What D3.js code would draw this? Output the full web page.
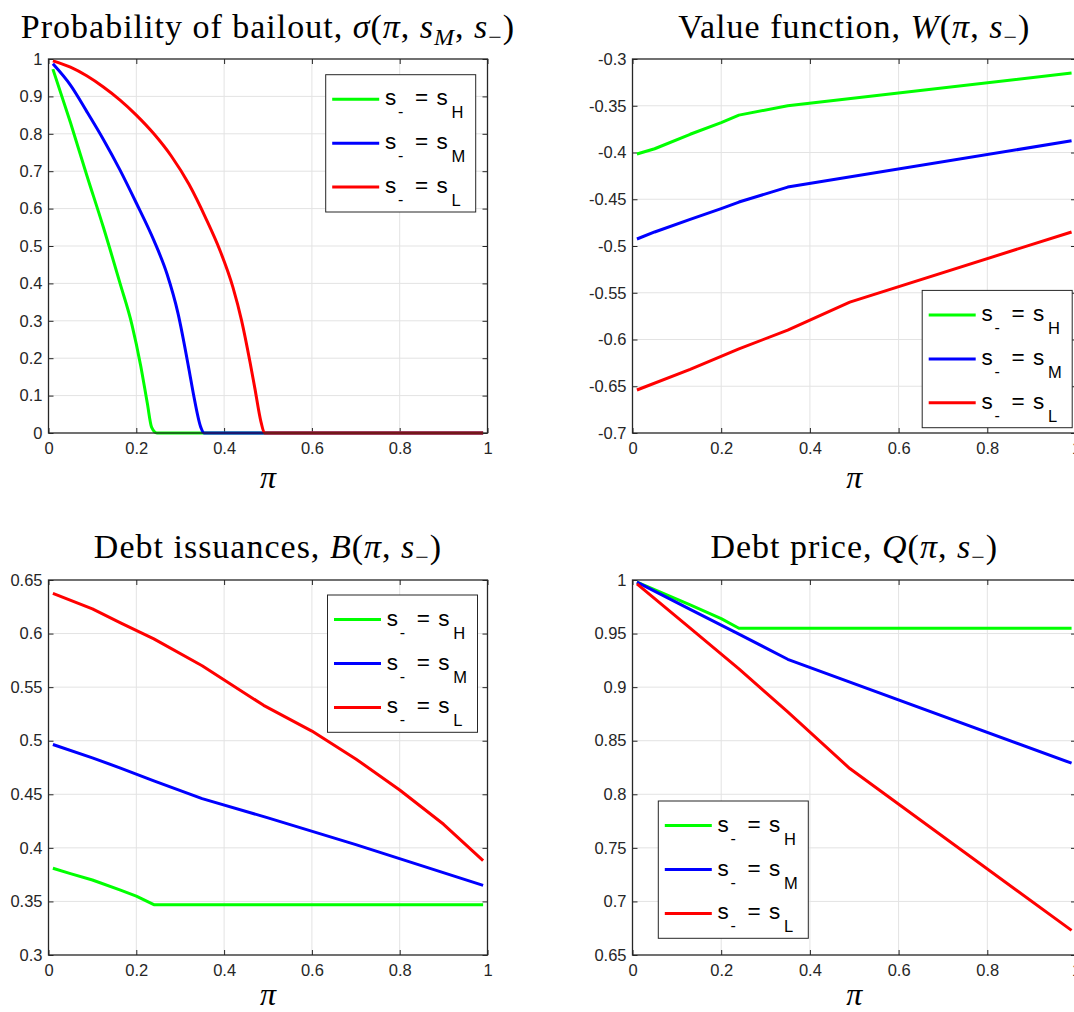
<!DOCTYPE html>
<html><head><meta charset="utf-8">
<script src="https://cdn.jsdelivr.net/npm/d3@7"></script>
<style>body{margin:0;background:#fff;overflow:hidden}</style>
</head><body>
<script>
// ---------- data ----------
const xTicks = [0, 0.2, 0.4, 0.6, 0.8, 1];
const xTickLabels = ["0", "0.2", "0.4", "0.6", "0.8", "1"];

const sigmaTicks = [0, 0.1, 0.2, 0.3, 0.4, 0.5, 0.6, 0.7, 0.8, 0.9, 1];
const sigmaTickLabels = ["0", "0.1", "0.2", "0.3", "0.4", "0.5", "0.6", "0.7", "0.8", "0.9", "1"];
const wTicks = [-0.7, -0.65, -0.6, -0.55, -0.5, -0.45, -0.4, -0.35, -0.3];
const wTickLabels = ["-0.7", "-0.65", "-0.6", "-0.55", "-0.5", "-0.45", "-0.4", "-0.35", "-0.3"];
const bTicks = [0.3, 0.35, 0.4, 0.45, 0.5, 0.55, 0.6, 0.65];
const bTickLabels = ["0.3", "0.35", "0.4", "0.45", "0.5", "0.55", "0.6", "0.65"];
const qTicks = [0.65, 0.7, 0.75, 0.8, 0.85, 0.9, 0.95, 1];
const qTickLabels = ["0.65", "0.7", "0.75", "0.8", "0.85", "0.9", "0.95", "1"];

const seriesSubs = ["H", "M", "L"];
const seriesColors = ["#00ff00", "#0000ff", "#ff0000"];

// Probability of bailout
const sigmaPiH = [0.01, 0.05, 0.087, 0.125, 0.163, 0.19, 0.21, 0.225, 0.235, 0.247, 0.99];
const sigmaH   = [0.973, 0.83, 0.69, 0.55, 0.40, 0.29, 0.18, 0.08, 0.015, 0, 0];
const sigmaPiM = [0.01, 0.05, 0.087, 0.125, 0.163, 0.2, 0.24, 0.27, 0.295, 0.32, 0.33, 0.347, 0.354, 0.99];
const sigmaM   = [0.987, 0.93, 0.86, 0.785, 0.703, 0.615, 0.515, 0.425, 0.32, 0.17, 0.105, 0.015, 0, 0];
const sigmaPiL = [0.01, 0.05, 0.087, 0.125, 0.163, 0.2, 0.24, 0.28, 0.32, 0.36, 0.39, 0.42, 0.44, 0.459, 0.47, 0.484, 0.492, 0.99];
const sigmaL   = [0.995, 0.978, 0.955, 0.925, 0.89, 0.85, 0.80, 0.74, 0.665, 0.57, 0.49, 0.39, 0.30, 0.19, 0.12, 0.03, 0, 0];

// Value function
const wPiH = [0.01, 0.05, 0.13, 0.2, 0.24, 0.35, 0.99];
const wH   = [-0.4016, -0.396, -0.3805, -0.368, -0.360, -0.350, -0.315];
const wPiM = [0.01, 0.05, 0.13, 0.2, 0.24, 0.35, 0.99];
const wM   = [-0.4925, -0.485, -0.4715, -0.460, -0.453, -0.437, -0.3875];
const wPiL = [0.01, 0.13, 0.24, 0.35, 0.49, 0.99];
const wL   = [-0.654, -0.632, -0.610, -0.590, -0.560, -0.485];

// Debt issuances
const bPiH = [0.01, 0.05, 0.1, 0.164, 0.2, 0.24, 0.99];
const bH   = [0.381, 0.376, 0.370, 0.3605, 0.355, 0.347, 0.347];
const bPiM = [0.01, 0.1, 0.164, 0.24, 0.35, 0.5, 0.7, 0.99];
const bM   = [0.4965, 0.484, 0.4745, 0.4625, 0.446, 0.428, 0.403, 0.365];
const bPiL = [0.01, 0.1, 0.164, 0.24, 0.35, 0.49, 0.6, 0.7, 0.8, 0.9, 0.99];
const bL   = [0.6375, 0.623, 0.610, 0.595, 0.570, 0.533, 0.509, 0.483, 0.454, 0.422, 0.388];

// Debt price
const qPiH = [0.01, 0.13, 0.2, 0.24, 0.99];
const qH   = [0.998, 0.9767, 0.964, 0.955, 0.955];
const qPiM = [0.01, 0.13, 0.24, 0.35, 0.99];
const qM   = [0.998, 0.9726, 0.9495, 0.926, 0.829];
const qPiL = [0.01, 0.13, 0.24, 0.35, 0.49, 0.99];
const qL   = [0.9963, 0.955, 0.917, 0.877, 0.824, 0.673];

// ---------- layout ----------
const W = 1074, H = 1012;
const svg = d3.select("body").append("svg").attr("width", W).attr("height", H)
  .style("font-family", "'Liberation Sans', Arial, sans-serif");

const INK = "#262626";
const GRID = "#e3e3e3";

const panels = [
  { box: [48.5, 487.5, 59, 433], domain: [0, 1], ticks: sigmaTicks, labels: sigmaTickLabels, smooth: true,
    series: [[sigmaPiH, sigmaH], [sigmaPiM, sigmaM], [sigmaPiL, sigmaL]],
    title: [{t: "Probability of bailout, "}, {t: "σ", i: 1}, {t: "("}, {t: "π", i: 1}, {t: ", "}, {t: "s", i: 1}, {t: "M", i: 1, sub: 1}, {t: ", "}, {t: "s", i: 1}, {t: "−", sub: 1}, {t: ")"}],
    titleY: 38, legend: [325.7, 74.7] },
  { box: [632.5, 1076, 59, 433], domain: [-0.7, -0.3], ticks: wTicks, labels: wTickLabels,
    series: [[wPiH, wH], [wPiM, wM], [wPiL, wL]],
    title: [{t: "Value function, "}, {t: "W", i: 1}, {t: "("}, {t: "π", i: 1}, {t: ", "}, {t: "s", i: 1}, {t: "−", sub: 1}, {t: ")"}],
    titleY: 38, legend: [922.2, 290.4] },
  { box: [48.5, 487.5, 580, 955], domain: [0.3, 0.65], ticks: bTicks, labels: bTickLabels,
    series: [[bPiH, bH], [bPiM, bM], [bPiL, bL]],
    title: [{t: "Debt issuances, "}, {t: "B", i: 1}, {t: "("}, {t: "π", i: 1}, {t: ", "}, {t: "s", i: 1}, {t: "−", sub: 1}, {t: ")"}],
    titleY: 558, legend: [327.5, 595] },
  { box: [632.5, 1076, 580, 955], domain: [0.65, 1], ticks: qTicks, labels: qTickLabels,
    series: [[qPiH, qH], [qPiM, qM], [qPiL, qL]],
    title: [{t: "Debt price, "}, {t: "Q", i: 1}, {t: "("}, {t: "π", i: 1}, {t: ", "}, {t: "s", i: 1}, {t: "−", sub: 1}, {t: ")"}],
    titleY: 558, legend: [658.3, 801] }
];

const TICK = 5;
const FS_TICK = "16.5px";

panels.forEach(p => {
  const [x0, x1, y0, y1] = p.box;
  const x = d3.scaleLinear().domain([0, 1]).range([x0, x1]);
  const y = d3.scaleLinear().domain(p.domain).range([y1, y0]);
  const g = svg.append("g");

  // grid
  g.selectAll(".gx").data(xTicks.slice(1, -1)).join("line")
    .attr("x1", d => x(d)).attr("x2", d => x(d)).attr("y1", y0).attr("y2", y1)
    .attr("stroke", GRID).attr("stroke-width", 1);
  g.selectAll(".gy").data(p.ticks.slice(1, -1)).join("line")
    .attr("x1", x0).attr("x2", x1).attr("y1", d => y(d)).attr("y2", d => y(d))
    .attr("stroke", GRID).attr("stroke-width", 1);

  // axes via d3 (inner ticks)
  const xb = d3.axisBottom(x).tickValues(xTicks).tickFormat((d, i) => xTickLabels[i]).tickSizeInner(-TICK).tickSizeOuter(0).tickPadding(9);
  const xt = d3.axisTop(x).tickValues(xTicks).tickFormat("").tickSizeInner(-TICK).tickSizeOuter(0);
  const yl = d3.axisLeft(y).tickValues(p.ticks).tickFormat((d, i) => p.labels[i]).tickSizeInner(-TICK).tickSizeOuter(0).tickPadding(6);
  const yr = d3.axisRight(y).tickValues(p.ticks).tickFormat("").tickSizeInner(-TICK).tickSizeOuter(0);

  const styleAxis = sel => {
    sel.select(".domain").remove();
    sel.selectAll("line").attr("stroke", INK).attr("stroke-width", 1);
    sel.selectAll("text").attr("fill", INK).style("font-size", FS_TICK).style("font-family", "'Liberation Sans', Arial, sans-serif");
  };
  g.append("g").attr("transform", `translate(0,${y1})`).call(xb).call(styleAxis);
  g.append("g").attr("transform", `translate(0,${y0})`).call(xt).call(styleAxis);
  g.append("g").attr("transform", `translate(${x0},0)`).call(yl).call(styleAxis);
  g.append("g").attr("transform", `translate(${x1},0)`).call(yr).call(styleAxis);

  // series
  const line = d3.line().x(d => x(d[0])).y(d => y(d[1]));
  if (p.smooth) line.curve(d3.curveMonotoneX);
  p.series.forEach((s, k) => {
    const pts = s[0].map((v, i) => [v, s[1][i]]);
    g.append("path").datum(pts).attr("d", line)
      .attr("fill", "none").attr("stroke", seriesColors[k]).attr("stroke-width", 3)
      .attr("stroke-linejoin", "round");
  });

  // box
  g.append("rect").attr("x", x0).attr("y", y0).attr("width", x1 - x0).attr("height", y1 - y0)
    .attr("fill", "none").attr("stroke", INK).attr("stroke-width", 1.3);

  // title
  const cx = (x0 + x1) / 2;
  const tt = svg.append("text").attr("x", cx).attr("y", p.titleY).attr("text-anchor", "middle")
    .style("font-family", "'Liberation Serif', 'Times New Roman', serif").style("font-size", "34px")
    .style("letter-spacing", "1px").attr("fill", "#000");
  p.title.forEach((seg, i) => {
    const ts = tt.append("tspan").text(seg.t);
    if (seg.i) ts.style("font-style", "italic");
    const prev = p.title[i - 1];
    if (seg.sub) ts.style("font-size", "24px").attr("dy", 7);
    else if (prev && prev.sub) ts.attr("dy", -7);
  });

  // x label
  svg.append("text").attr("x", cx).attr("y", y1 + (y1 > 500 ? 50 : 55)).attr("text-anchor", "middle")
    .style("font-family", "'Liberation Serif', 'Times New Roman', serif").style("font-style", "italic")
    .style("font-size", "32px").attr("fill", "#000").text("π");

  // legend
  const [lx, ly] = p.legend;
  const lg = svg.append("g");
  lg.append("rect").attr("x", lx).attr("y", ly).attr("width", 150).attr("height", 137.3)
    .attr("fill", "#fff").attr("stroke", INK).attr("stroke-width", 1);
  seriesSubs.forEach((sub, k) => {
    const cyRow = ly + 24.6 + k * 43.9;
    lg.append("line").attr("x1", lx + 6.5).attr("x2", lx + 53.5).attr("y1", cyRow).attr("y2", cyRow)
      .attr("stroke", seriesColors[k]).attr("stroke-width", 3);
    const tx = lx + 59.3;
    const add = (t, dx, dy, fs) => lg.append("text").attr("x", tx + dx).attr("y", cyRow + dy)
      .style("font-size", fs + "px").attr("fill", "#000").text(t);
    add("s", 0, 6, 22.5);
    add("-", 13, 18, 16);
    add("=", 30, 6, 22.5);
    add("s", 51.5, 6, 22.5);
    add(sub, 66.5, 19, 16.5);
  });
});
</script>
</body></html>
